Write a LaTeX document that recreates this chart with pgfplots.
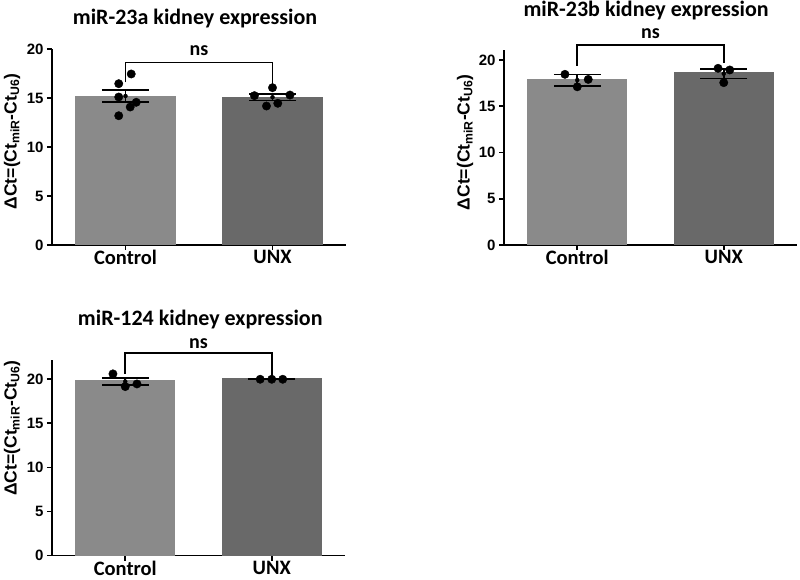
\documentclass[border=0pt]{standalone}
\usepackage{fontspec}
\setmainfont{Carlito}
\newfontfamily\arialf{Liberation Sans}
\usepackage{pgfplots}
\pgfplotsset{compat=1.18}

\definecolor{ctrl}{HTML}{8A8A8A}
\definecolor{unx}{HTML}{696969}

\pgfplotsset{
  panel/.style={
    scale only axis,
    width=294pt, height=196pt,
    xmin=-0.5, xmax=1.5, ymin=0,
    axis lines*=left,
    axis line style={line width=1.6pt, black},
    every tick/.style={line width=1.6pt, black},
    tick align=outside,
    major tick length=5pt,
    xtick={0,1},
    xticklabels={Control,UNX},
    ytick={0,5,10,15,20},
    xticklabel style={font=\bfseries\fontsize{20.5}{22}\selectfont, yshift=3pt},
    yticklabel style={font=\arialf\bfseries\fontsize{15}{17}\selectfont},
    /pgf/number format/assume math mode=true,
    clip=false,
  },
  bars/.style={ybar, bar shift=0pt, bar width=100pt, draw=none, fill=#1},
  errb/.style={only marks, mark=none, black,
    error bars/.cd, y dir=both, y explicit,
    error bar style={line width=1.6pt, black},
    error mark options={rotate=90, mark size=23.5pt, line width=1.6pt, black}},
  dots/.style={only marks, mark=*, mark size=4.2pt, black},
}
\newcommand{\ylab}{\arialf\bfseries ΔCt=(Ct\textsubscript{miR}-Ct\textsubscript{U6})}
\tikzset{ttl/.style={font=\bfseries\fontsize{22}{24}\selectfont, anchor=base},
  ns/.style={font=\bfseries\fontsize{20}{22}\selectfont},
  ylb/.style={rotate=90, anchor=center, font=\fontsize{17.5}{19}\selectfont}}

\begin{document}
\begin{tikzpicture}
\useasboundingbox (0pt,0pt) rectangle (800pt,580pt);

% miR-23a
\begin{axis}[panel, at={(52pt,335pt)}, anchor=south west, ymax=20]
\addplot[bars=ctrl] coordinates {(0,15.2)};
\addplot[bars=unx] coordinates {(1,15.1)};
\addplot[errb] coordinates {(0,15.2) +- (0,0.62) (1,15.08) +- (0,0.33)};
\addplot[dots] coordinates {
  (0.039,17.45) (-0.046,16.46) (-0.046,15.10) (0.073,14.56) (0.032,14.08) (-0.046,13.19)
  (1.0,16.05) (0.877,15.24) (1.119,15.30) (0.959,14.18) (1.036,14.46)};
\draw[line width=1.6pt] (axis cs:0,16.6) |- (axis cs:0.5,18.64) -| (axis cs:1,16.4);
\node[ns] at (axis cs:0.5,19.8) {ns};
\node[ttl] at (axis cs:0.473,22.55) {miR-23a kidney expression};
\node[ylb] at (axis cs:-0.772,10.56) {\ylab};
\end{axis}

% miR-23b
\begin{axis}[panel, at={(504pt,335pt)}, anchor=south west, ymax=21.08, width=293pt, height=195pt]
\addplot[bars=ctrl] coordinates {(0,17.9)};
\addplot[bars=unx] coordinates {(1,18.67)};
\addplot[errb] coordinates {(0,17.82) +- (0,0.62) (1,18.52) +- (0,0.5)};
\addplot[dots] coordinates {
  (-0.084,18.45) (0.075,17.9) (0.0,17.1)
  (0.961,19.1) (1.041,18.92) (1.0,17.55)};
\draw[line width=1.6pt] (axis cs:0,19.35) |- (axis cs:0.5,21.6) -| (axis cs:1,19.7);
\node[ns] at (axis cs:0.5,22.9) {ns};
\node[ttl] at (axis cs:0.47,24.7) {miR-23b kidney expression};
\node[ylb] at (axis cs:-0.765,11.1) {\ylab};
\end{axis}

% miR-124
\begin{axis}[panel, at={(52pt,24.3pt)}, anchor=south west, ymax=22.15, width=293pt, height=195.7pt]
\addplot[bars=ctrl] coordinates {(0,19.9)};
\addplot[bars=unx] coordinates {(1,20.08)};
\addplot[errb] coordinates {(0,19.71) +- (0,0.38) (1,19.97) +- (0,0.03)};
\addplot[dots] coordinates {
  (-0.084,20.58) (0.0,19.14) (0.08,19.44)
  (0.921,19.97) (1.0,19.97) (1.075,19.97)};
\draw[line width=1.6pt] (axis cs:0,20.58) |- (axis cs:0.5,22.92) -| (axis cs:1,20.27);
\node[ns] at (axis cs:0.5,24.05) {ns};
\node[ttl] at (axis cs:0.512,26.0) {miR-124 kidney expression};
\node[ylb] at (axis cs:-0.772,14.46) {\ylab};
\end{axis}
\end{tikzpicture}
\end{document}
